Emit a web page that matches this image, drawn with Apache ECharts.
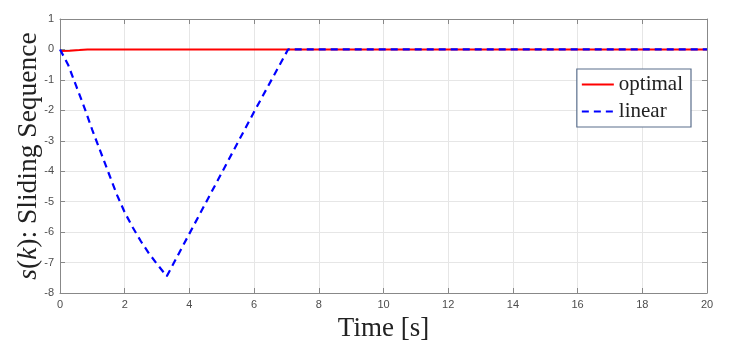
<!DOCTYPE html>
<html><head><meta charset="utf-8">
<script src="https://cdn.jsdelivr.net/npm/echarts@6/dist/echarts.min.js"></script>
<style>html,body{margin:0;padding:0;background:#fff}#c{width:730px;height:357px}</style>
</head><body><div id="c"></div>
<script>
const optimalT = [0, 0.3, 0.6, 0.85, 2, 5, 10, 15, 20];
const optimalV = [-0.05, -0.04, -0.02, 0, 0, 0, 0, 0, 0];
const linearT = [0, 0.25, 0.5, 0.75, 1.0, 1.25, 1.5, 1.75, 2.0, 2.25, 2.5, 2.75, 3.0, 3.3, 4.0, 5.0, 6.0, 7.05, 10, 15, 20];
const linearV = [0, -0.5, -1.2, -1.9, -2.65, -3.35, -4.05, -4.75, -5.35, -5.85, -6.3, -6.7, -7.05, -7.45, -6.05, -4.05, -2.05, 0, 0, 0, 0];
const xTicks = [0,2,4,6,8,10,12,14,16,18,20];
const yTicks = [-8,-7,-6,-5,-4,-3,-2,-1,0,1];

const chart = echarts.init(document.getElementById('c'));
const serif = '"Liberation Serif","Times New Roman",serif';
const labelStyle = {color:'#4d4d4d', fontSize:11, fontFamily:'"Liberation Sans",Arial,sans-serif'};
const axLine = {show:true, onZero:false, lineStyle:{color:'#888', width:1}};
const axTick = {inside:true, length:5, lineStyle:{color:'#888'}};
chart.setOption({
  animation:false,
  grid:{left:60, right:23, top:19, bottom:64, outerBoundsMode:'none', containLabel:false},
  legend:{
    orient:'vertical', right:39, top:69,
    data:[{name:'optimal', itemStyle:{opacity:0}}, {name:'linear', itemStyle:{opacity:0}}],
    backgroundColor:'#fff', borderColor:'#5a6e8c', borderWidth:1.2,
    padding:[5,8,5,4], itemGap:6, itemWidth:32, itemHeight:14,
    textStyle:{fontFamily:serif, fontSize:21, color:'#222'}
  },
  xAxis:[{
    type:'value', min:0, max:20, interval:2,
    name:'Time [s]', nameLocation:'middle', nameGap:22, nameMoveOverlap:false,
    nameTextStyle:{fontFamily:serif, fontSize:27, color:'#222'},
    axisLine:axLine, axisTick:axTick,
    axisLabel:Object.assign({margin:6, formatter:v=>xTicks.includes(v)?String(v):''}, labelStyle),
    splitLine:{show:true, lineStyle:{color:'#e6e6e6'}}
  },{
    type:'value', min:0, max:20, interval:2, position:'top',
    axisLine:axLine, axisTick:axTick,
    axisLabel:{show:false}, splitLine:{show:false}
  }],
  yAxis:[{
    type:'value', min:-8, max:1, interval:1,
    name:'{i|s}{n|(}{i|k}{n|): Sliding Sequence}', nameLocation:'middle', nameGap:17, nameRotate:90, nameMoveOverlap:false,
    nameTextStyle:{rich:{
      i:{fontFamily:serif, fontStyle:'italic', fontSize:27.5, color:'#222'},
      n:{fontFamily:serif, fontSize:27.5, color:'#222'}
    }},
    axisLine:axLine, axisTick:axTick,
    axisLabel:Object.assign({margin:6, formatter:v=>yTicks.includes(v)?String(v):''}, labelStyle),
    splitLine:{show:true, lineStyle:{color:'#e6e6e6'}}
  },{
    type:'value', min:-8, max:1, interval:1, position:'right',
    axisLine:axLine, axisTick:axTick,
    axisLabel:{show:false}, splitLine:{show:false}
  }],
  series:[
    {name:'optimal', type:'line', showSymbol:false, symbol:'none',
     data:optimalT.map((t,i)=>[t, optimalV[i]]),
     lineStyle:{color:'#ff0000', width:2}, itemStyle:{color:'#ff0000'}, z:3},
    {name:'linear', type:'line', showSymbol:false, symbol:'none',
     data:linearT.map((t,i)=>[t, linearV[i]]),
     lineStyle:{color:'#0000ff', width:2.2, type:[7,5]}, itemStyle:{color:'#0000ff'}, z:4}
  ]
});
</script></body></html>
